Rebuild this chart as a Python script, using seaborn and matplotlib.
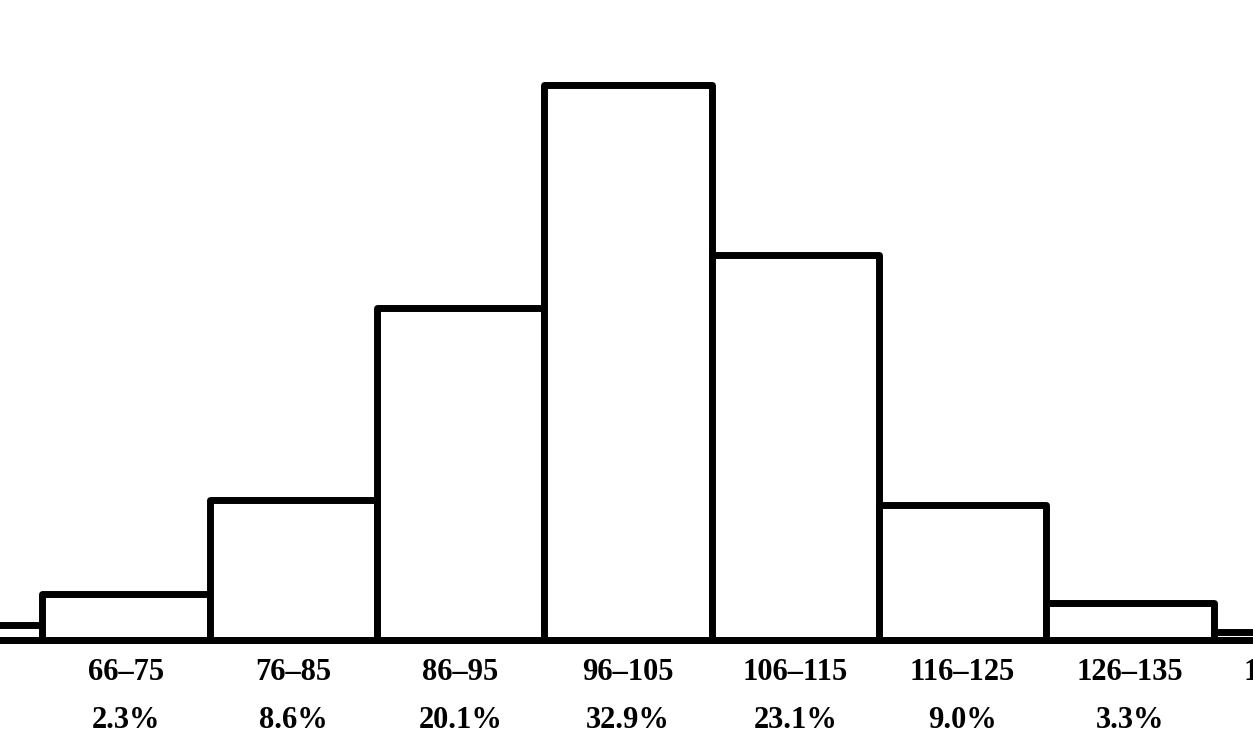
import pandas as pd
import matplotlib.pyplot as plt
import seaborn as sns

# IQ ranges (outer two are only partly visible in the original scan)
ranges = ['56–65', '66–75', '76–85', '86–95', '96–105', '106–115', '116–125', '126–135', '136–145']
# bar heights as drawn (percent units)
heights = [0.9, 2.7, 8.3, 19.7, 32.9, 22.8, 8.0, 2.2, 0.5]
pct_labels = ['0.4%', '2.3%', '8.6%', '20.1%', '32.9%', '23.1%', '9.0%', '3.3%', '0.3%']

df = pd.DataFrame({'range': ranges, 'height': heights})

sns.set_style('white')
plt.rcParams['font.family'] = ['Liberation Serif', 'DejaVu Serif']

fig = plt.figure(figsize=(12.53, 7.43), dpi=100)
ax = fig.add_axes([0, 103 / 743, 1, 640 / 743])

sns.barplot(data=df, x='range', y='height', order=ranges, color='white',
            saturation=1, edgecolor='black', linewidth=5, width=1.0, ax=ax)
for p in ax.patches:
    p.set_clip_on(False)
    p.set_joinstyle('round')

ax.axhline(0, color='black', lw=5, clip_on=False, zorder=3)

# labels as annotations so the half-visible outer ones still show at the edges
for i, (r, p) in enumerate(zip(ranges, pct_labels)):
    ax.annotate(f'{r}\n{p}', xy=(i, 0), xycoords=('data', 'axes fraction'),
                xytext=(0, -13), textcoords='offset points', ha='center', va='top',
                fontsize=22, fontweight='bold', color='black', linespacing=1.86,
                annotation_clip=False)

ax.set_xticks([])
ax.set_yticks([])
ax.set_xlabel('')
ax.set_ylabel('')
ax.set_xlim(0.247, 7.736)
ax.set_ylim(0, 640 / 16.87)
sns.despine(ax=ax, left=True, bottom=True)

fig.savefig('out.png', dpi=100)
